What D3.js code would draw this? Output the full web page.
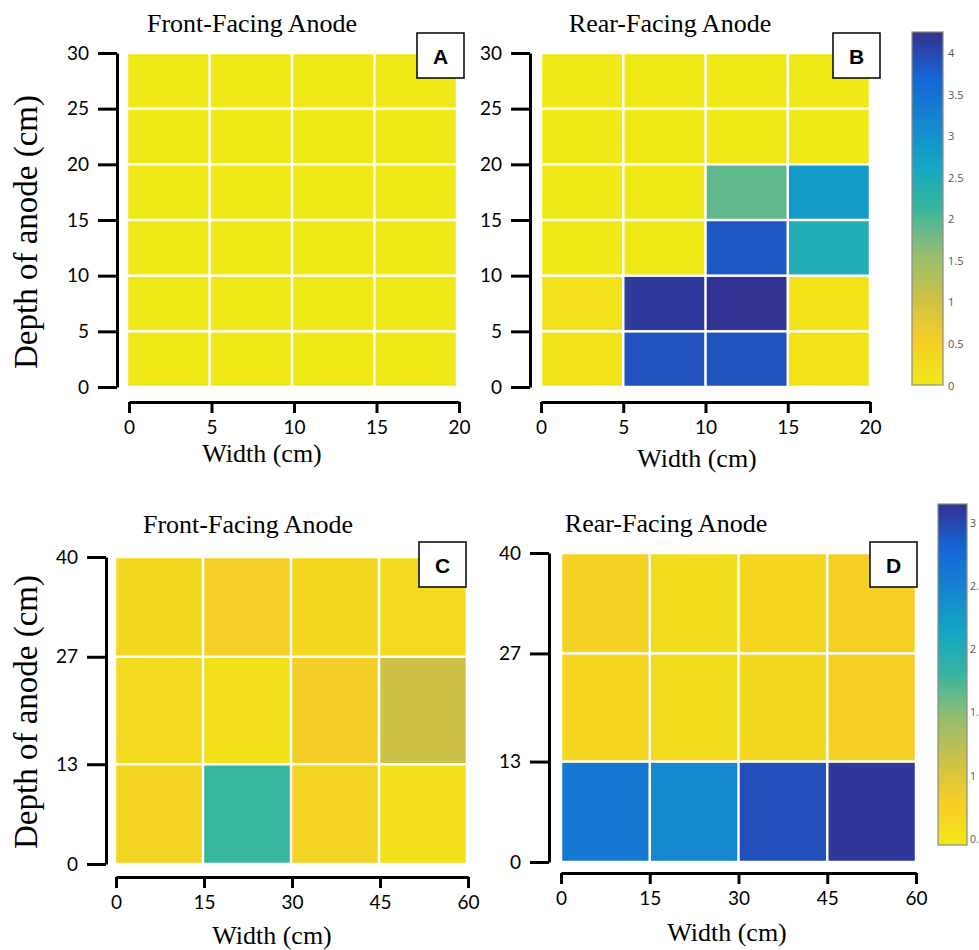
<!DOCTYPE html>
<html>
<head>
<meta charset="utf-8">
<script src="https://cdn.jsdelivr.net/npm/d3@7"></script>
<style>
  body { margin: 0; background: #fff; }
  svg { display: block; }
</style>
</head>
<body>
<div id="chart"></div>
<script>
// ---- data ----
const xEdgesTop = [0, 5, 10, 15, 20];
const yEdgesTop = [0, 5, 10, 15, 20, 25, 30];
const xEdgesBottom = [0, 15, 30, 45, 60];
const yEdgesBottom = [0, 13, 27, 40];

const xTicksTop = [0, 5, 10, 15, 20];
const yTicksTop = [0, 5, 10, 15, 20, 25, 30];
const xTicksBottom = [0, 15, 30, 45, 60];
const yTicksBottom = [0, 13, 27, 40];

// rows listed from depth 0 upward, columns left to right
const valuesA = [
  [0, 0, 0, 0],
  [0, 0, 0, 0],
  [0, 0, 0, 0],
  [0, 0, 0, 0],
  [0, 0, 0, 0],
  [0, 0, 0, 0]
];
const valuesB = [
  [0.08, 3.9, 3.9, 0.08],
  [0.14, 4.15, 4.22, 0.08],
  [0, 0, 3.85, 2.45],
  [0, 0, 1.9, 2.85],
  [0, 0, 0, 0],
  [0, 0, 0, 0]
];
const valuesC = [
  [0.7, 1.8, 0.7, 0.55],
  [0.64, 0.55, 0.8, 1.12],
  [0.65, 0.78, 0.66, 0.63]
];
const valuesD = [
  [2.6, 2.45, 2.95, 3.1],
  [0.68, 0.6, 0.65, 0.75],
  [0.72, 0.6, 0.67, 0.75]
];

const colorDomainTop = [0, 4.25];
const colorDomainBottom = [0.45, 3.15];
const colorbarTicksTop = [0, 0.5, 1, 1.5, 2, 2.5, 3, 3.5, 4];
const colorbarTicksBottom = [0.5, 1, 1.5, 2, 2.5, 3];

// parula-like map, low value (yellow) -> high value (dark blue)
const colorStops = ["#f1e817", "#f5cd26", "#cdc148", "#92bd72", "#38b59f",
                    "#14a6c4", "#1585d0", "#1565d6", "#34308f"];

// ---- layout ----
const W = 979, H = 950;
const svg = d3.select("#chart").append("svg")
  .attr("width", W).attr("height", H);

function makeColor(domain) {
  const [d0, d1] = domain;
  return d3.scaleLinear()
    .domain(colorStops.map((c, i) => d0 + i * (d1 - d0) / (colorStops.length - 1)))
    .range(colorStops)
    .clamp(true);
}
const colorTop = makeColor(colorDomainTop);
const colorBottom = makeColor(colorDomainBottom);

const panels = [
  { title: "Front-Facing Anode", letter: "A", values: valuesA, xEdges: xEdgesTop, yEdges: yEdgesTop,
    xTicks: xTicksTop, yTicks: yTicksTop, color: colorTop,
    left: 127, right: 457, top: 53, bottom: 387, yAxisX: 117, xAxisY: 402, xShift: 2,
    titleX: 252, titleY: 32, boxX: 417, boxY: 33, xLabelX: 262, xLabelY: 462, yLabelY: 232 },
  { title: "Rear-Facing Anode", letter: "B", values: valuesB, xEdges: xEdgesTop, yEdges: yEdgesTop,
    xTicks: xTicksTop, yTicks: yTicksTop, color: colorTop,
    left: 541, right: 870, top: 53, bottom: 387, yAxisX: 530, xAxisY: 402, xShift: 0,
    titleX: 670, titleY: 32, boxX: 833, boxY: 33, xLabelX: 697, xLabelY: 467 },
  { title: "Front-Facing Anode", letter: "C", values: valuesC, xEdges: xEdgesBottom, yEdges: yEdgesBottom,
    xTicks: xTicksBottom, yTicks: yTicksBottom, color: colorBottom,
    left: 115, right: 467, top: 557, bottom: 864, yAxisX: 106, xAxisY: 877, xShift: 1,
    titleX: 248, titleY: 533, boxX: 419, boxY: 542, xLabelX: 272, xLabelY: 944, yLabelY: 712 },
  { title: "Rear-Facing Anode", letter: "D", values: valuesD, xEdges: xEdgesBottom, yEdges: yEdgesBottom,
    xTicks: xTicksBottom, yTicks: yTicksBottom, color: colorBottom,
    left: 561, right: 916, top: 553, bottom: 862, yAxisX: 549, xAxisY: 873, xShift: 0,
    titleX: 666, titleY: 532, boxX: 870, boxY: 542, xLabelX: 727, xLabelY: 941 }
];

const serif = "'Liberation Serif', 'Times New Roman', serif";
const sans = "Lato, 'Liberation Sans', sans-serif";
const gap = 2.5;

function drawPanel(p) {
  const g = svg.append("g");
  const x = d3.scaleLinear().domain(d3.extent(p.xEdges)).range([p.left, p.right]);
  const y = d3.scaleLinear().domain(d3.extent(p.yEdges)).range([p.bottom, p.top]);

  const cells = [];
  p.values.forEach((row, r) => row.forEach((v, c) => {
    cells.push({ x0: p.xEdges[c], x1: p.xEdges[c + 1], y0: p.yEdges[r], y1: p.yEdges[r + 1], v });
  }));

  g.selectAll("rect.cell").data(cells).join("rect")
    .attr("class", "cell")
    .attr("x", d => x(d.x0) + gap / 2)
    .attr("y", d => y(d.y1) + gap / 2)
    .attr("width", d => x(d.x1) - x(d.x0) - gap)
    .attr("height", d => y(d.y0) - y(d.y1) - gap)
    .attr("fill", d => p.color(d.v));

  // y axis
  const ya = g.append("g")
    .attr("transform", `translate(${p.yAxisX},0)`)
    .call(d3.axisLeft(y).tickValues(p.yTicks).tickSize(19).tickSizeOuter(0).tickPadding(9)
      .tickFormat(d3.format("d")));
  // x axis
  const xa = g.append("g")
    .attr("transform", `translate(${p.xShift},${p.xAxisY})`)
    .call(d3.axisBottom(x).tickValues(p.xTicks).tickSize(11).tickSizeOuter(0).tickPadding(8)
      .tickFormat(d3.format("d")));

  [ya, xa].forEach(a => {
    a.select(".domain").attr("stroke", "#000").attr("stroke-width", 3);
    a.selectAll(".tick line").attr("stroke", "#000").attr("stroke-width", 3);
    a.selectAll(".tick text").attr("fill", "#000")
      .style("font-family", sans).style("font-size", "19px");
  });

  // title
  g.append("text")
    .attr("x", p.titleX).attr("y", p.titleY)
    .attr("text-anchor", "middle")
    .style("font-family", serif).style("font-size", "26px")
    .text(p.title);

  // x label
  g.append("text")
    .attr("x", p.xLabelX).attr("y", p.xLabelY)
    .attr("text-anchor", "middle")
    .style("font-family", serif).style("font-size", "26px")
    .text("Width (cm)");

  // y label (left panels only)
  if (p.yLabelY) {
    g.append("text")
      .attr("transform", `translate(26,${p.yLabelY}) rotate(-90)`)
      .attr("text-anchor", "middle")
      .attr("dominant-baseline", "central")
      .style("font-family", serif).style("font-size", "33px")
      .text("Depth of anode (cm)");
  }

  // panel letter box
  g.append("rect")
    .attr("x", p.boxX).attr("y", p.boxY)
    .attr("width", 47).attr("height", 45)
    .attr("fill", "#fff").attr("stroke", "#000").attr("stroke-width", 1.5);
  g.append("text")
    .attr("x", p.boxX + 23.5).attr("y", p.boxY + 23)
    .attr("text-anchor", "middle").attr("dominant-baseline", "central")
    .style("font-family", "'Liberation Sans', Arial, sans-serif")
    .style("font-weight", "bold").style("font-size", "21px")
    .text(p.letter);
}

panels.forEach(drawPanel);

// ---- colorbars ----
const defs = svg.append("defs");
function drawColorbar(id, domain, ticks, x0, width, top, bottom, gapText, fontSize) {
  const grad = defs.append("linearGradient")
    .attr("id", id).attr("x1", 0).attr("y1", 1).attr("x2", 0).attr("y2", 0);
  colorStops.forEach((c, i) => {
    grad.append("stop").attr("offset", i / (colorStops.length - 1)).attr("stop-color", c);
  });
  svg.append("rect")
    .attr("x", x0).attr("y", top).attr("width", width).attr("height", bottom - top)
    .attr("fill", `url(#${id})`).attr("stroke", "#8a8a8a").attr("stroke-width", 1.2);

  const s = d3.scaleLinear().domain(domain).range([bottom, top]);
  svg.append("g").selectAll("text").data(ticks).join("text")
    .attr("x", x0 + width + gapText)
    .attr("y", d => s(d))
    .attr("dominant-baseline", "central")
    .attr("fill", "#555")
    .style("font-family", "'Open Sans', sans-serif").style("font-size", fontSize)
    .text(d => d);
}
drawColorbar("cbTop", colorDomainTop, colorbarTicksTop, 912, 31, 32, 385, 5, "11px");
drawColorbar("cbBottom", colorDomainBottom, colorbarTicksBottom, 938, 29, 504, 845, 3, "10.5px");
</script>
</body>
</html>
